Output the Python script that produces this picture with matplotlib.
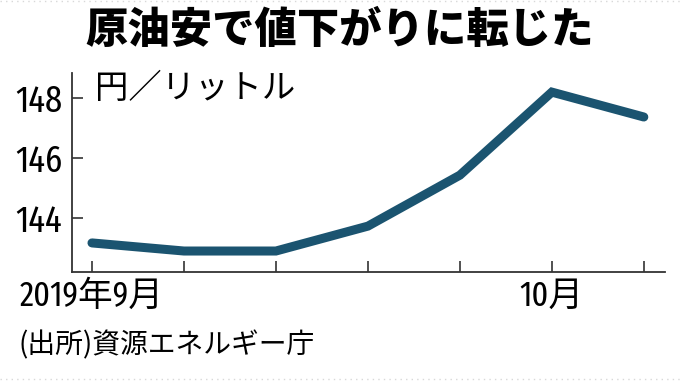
import matplotlib.pyplot as plt

jp = ['Noto Sans CJK JP', 'DejaVu Sans']
num = ['Fira Sans Extra Condensed', 'Roboto Condensed', 'Noto Sans CJK JP', 'DejaVu Sans']
plt.rcParams['font.family'] = jp

# weekly retail gasoline price, yen per litre
weeks = [0, 1, 2, 3, 4, 5, 6]
price = [143.17, 142.9, 142.9, 143.73, 145.43, 148.2, 147.37]
yticks = [144, 146, 148]
xtick_labels = ['2019年9月', '', '', '', '', '10月', '']

fig = plt.figure(figsize=(6.8, 3.83), dpi=100)
ax = fig.add_axes([0.1059, 0.2898, 0.872, 0.519])

ax.plot(weeks, price, color='#1b5470', lw=6.5, solid_capstyle='round',
        solid_joinstyle='miter')

ax.set_xlim(-0.217, 6.23)
ax.set_ylim(142.2, 148.83)
ax.set_yticks(yticks)
ax.set_yticklabels([str(v) for v in yticks], family=num, fontsize=27)
ax.set_xticks(weeks)
ax.set_xticklabels(xtick_labels, family=num, fontsize=25)
ax.tick_params(direction='in', length=8, width=1.2, color='#333333')
ax.tick_params(axis='y', pad=7)
ax.tick_params(axis='x', pad=5)
for s in ['top', 'right']:
    ax.spines[s].set_visible(False)
for s in ['left', 'bottom']:
    ax.spines[s].set_color('#333333')
    ax.spines[s].set_linewidth(1.3)

fig.text(0.139, 0.77, '円／リットル', fontsize=24, va='center', ha='left')
fig.text(0.5, 0.92, '原油安で値下がりに転じた', fontsize=30.5, fontweight='heavy',
         ha='center', va='center')
fig.text(0.027, 0.099, '(出所)資源エネルギー庁', fontsize=20, ha='left', va='center')

# faint dotted frame lines at top and bottom edges
for yy in [0.997, 0.01]:
    fig.add_artist(plt.Line2D([0, 1], [yy, yy], transform=fig.transFigure,
                              color='#d8d8d8', lw=1, ls=(0, (1, 3))))

fig.savefig('out.png', dpi=100)
